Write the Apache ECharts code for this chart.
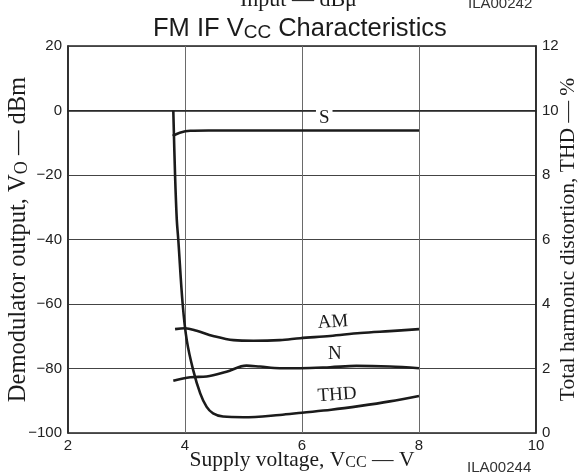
<!DOCTYPE html>
<html>
<head>
<meta charset="utf-8">
<script src="https://cdn.jsdelivr.net/npm/echarts@6/dist/echarts.min.js"></script>
<style>html,body{margin:0;padding:0;background:#fff}#c{width:581px;height:474px}</style>
</head>
<body>
<div id="c"></div>
<script>
// Supply voltage (V) and readings for each curve
const voltS = [3.79, 3.91, 4.09, 4.4, 5.0, 6.0, 7.0, 8.0];
const outS = [-7.9, -6.9, -6.3, -6.2, -6.2, -6.2, -6.2, -6.2];

const voltAM = [3.83, 4.0, 4.2, 4.48, 4.83, 5.17, 5.62, 5.97, 6.48, 7.0, 7.5, 8.0];
const outAM = [-67.8, -67.5, -68.3, -69.9, -71.2, -71.4, -71.2, -70.6, -69.9, -69.0, -68.4, -67.8];

const voltN = [3.80, 4.09, 4.37, 4.71, 5.05, 5.28, 5.62, 5.97, 6.48, 6.93, 7.5, 8.0];
const outN = [-83.8, -82.7, -82.5, -81.0, -79.1, -79.4, -79.9, -79.9, -79.6, -79.2, -79.4, -79.9];

const voltTHD = [3.80, 3.83, 3.86, 3.885, 3.96, 4.03, 4.14, 4.26, 4.37, 4.48, 4.65, 5.0, 5.62, 6.0, 6.5, 7.0, 7.5, 8.0];
const thdPct = [10.0, 8.0, 6.6, 6.0, 4.0, 2.88, 1.95, 1.23, 0.81, 0.61, 0.51, 0.49, 0.56, 0.63, 0.72, 0.84, 0.98, 1.15];

const xTicks = [2, 4, 6, 8, 10];
const yLeftTicks = [-100, -80, -60, -40, -20, 0, 20];
const yRightTicks = [0, 2, 4, 6, 8, 10, 12];

const pairs = (xs, ys) => xs.map((x, i) => [x, ys[i]]);

const serif = '"Liberation Serif", "DejaVu Serif", serif';
const sans = '"Liberation Sans", Arial, sans-serif';
const ink = '#1b1b1b';

const chart = echarts.init(document.getElementById('c'), null, {renderer: 'canvas'});

function curve(name, data, yIdx, label) {
  return {
    name, type: 'line', yAxisIndex: yIdx, data, smooth: 0.35, symbol: 'none',
    lineStyle: {color: ink, width: 2.6}, silent: true, z: 5,
    markPoint: {
      symbol: 'circle', symbolSize: 0, silent: true,
      data: [{coord: label.coord, value: name}],
      label: Object.assign({show: true, position: 'inside', formatter: name,
        fontFamily: serif, fontSize: 19, color: ink}, label.style || {})
    }
  };
}

chart.setOption({
  animation: false,
  backgroundColor: '#fff',
  title: {
    text: '{a|FM IF V}{b|CC}{a| Characteristics}',
    left: 148, top: 10,
    textStyle: {
      fontWeight: 'normal',
      rich: {
        a: {fontFamily: sans, fontSize: 25.5, fontWeight: 'normal', color: ink, lineHeight: 27, verticalAlign: 'bottom'},
        b: {fontFamily: sans, fontSize: 19, fontWeight: 'normal', color: ink, lineHeight: 27, verticalAlign: 'bottom', padding: [8, 0, 0, 0]}
      }
    }
  },
  grid: {left: 68, right: 45, top: 46, bottom: 41, outerBoundsMode: 'none', containLabel: false,
    show: true, borderColor: '#222', borderWidth: 1.5, backgroundColor: 'transparent'},
  xAxis: {
    type: 'value', min: xTicks[0], max: xTicks[xTicks.length - 1], interval: 2,
    axisLine: {show: true, lineStyle: {color: '#222', width: 1.5}},
    axisTick: {show: false},
    splitLine: {show: true, lineStyle: {color: '#6a6a6a', width: 1}},
    axisLabel: {fontFamily: sans, fontSize: 15, color: '#222', margin: 5},
    name: '{t|Supply voltage, V}{s|CC}{t| — V}',
    nameLocation: 'middle', nameGap: 14, nameMoveOverlap: false,
    nameTextStyle: {rich: {
      t: {fontFamily: serif, fontSize: 21.5, color: ink, lineHeight: 24, verticalAlign: 'bottom'},
      s: {fontFamily: serif, fontSize: 16, color: ink, lineHeight: 24, verticalAlign: 'bottom', padding: [6, 0, 0, 0]}
    }}
  },
  yAxis: [{
    type: 'value', min: yLeftTicks[0], max: yLeftTicks[yLeftTicks.length - 1], interval: 20,
    axisLine: {show: true, lineStyle: {color: '#222', width: 1.5}},
    axisTick: {show: false},
    splitLine: {show: true, lineStyle: {color: '#444', width: 1}},
    axisLabel: {fontFamily: sans, fontSize: 15, color: '#222', margin: 6,
      formatter: v => String(v).replace('-', '\u2212')},
    name: '{t|Demodulator output, V}{s|O}{t| — dBm}',
    nameLocation: 'middle', nameGap: 37, nameRotate: 90, nameMoveOverlap: false,
    nameTextStyle: {rich: {
      t: {fontFamily: serif, fontSize: 24.5, color: ink, lineHeight: 26, verticalAlign: 'bottom'},
      s: {fontFamily: serif, fontSize: 18, color: ink, lineHeight: 26, verticalAlign: 'bottom', padding: [6, 0, 0, 0]}
    }}
  }, {
    type: 'value', position: 'right', min: yRightTicks[0], max: yRightTicks[yRightTicks.length - 1], interval: 2,
    axisLine: {show: true, lineStyle: {color: '#222', width: 1.5}},
    axisTick: {show: false},
    splitLine: {show: false},
    axisLabel: {fontFamily: sans, fontSize: 15, color: '#222', margin: 6},
    name: 'Total harmonic distortion, THD — %',
    nameLocation: 'middle', nameGap: 20, nameRotate: 90, nameMoveOverlap: false,
    nameTextStyle: {fontFamily: serif, fontSize: 21.5, color: ink, lineHeight: 24}
  }],
  series: [
    curve('S', pairs(voltS, outS), 0, {coord: [6.38, -2.3], style: {backgroundColor: '#fff', padding: [0, 3]}}),
    curve('AM', pairs(voltAM, outAM), 0, {coord: [6.53, -65.6], style: {rotate: 4}}),
    curve('N', pairs(voltN, outN), 0, {coord: [6.56, -75.5]}),
    curve('THD', pairs(voltTHD, thdPct), 1, {coord: [6.6, 1.18], style: {rotate: 4}})
  ],
  graphic: [
    {type: 'text', left: 240, top: -11, style: {text: 'Input — dBμ', font: '22px ' + serif, fill: ink}},
    {type: 'text', left: 468, top: -4, style: {text: 'ILA00242', font: '15px ' + sans, fill: '#333'}},
    {type: 'text', left: 467, top: 460, style: {text: 'ILA00244', font: '15px ' + sans, fill: '#333'}}
  ]
});
</script>
</body>
</html>
